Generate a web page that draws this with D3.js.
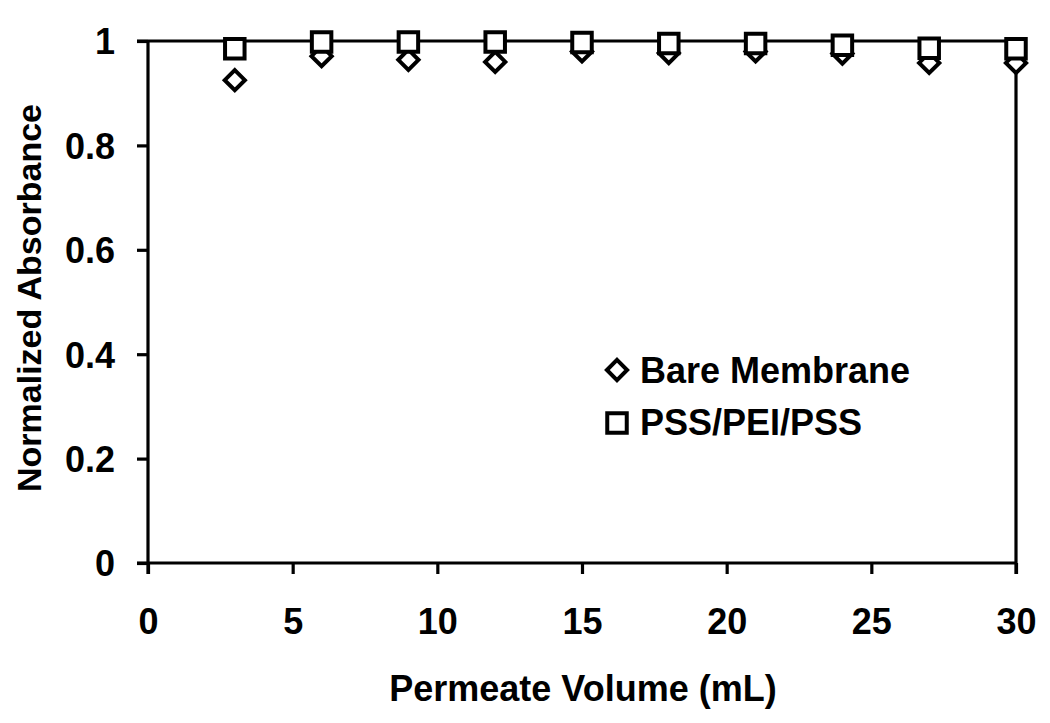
<!DOCTYPE html>
<html><head><meta charset="utf-8">
<script src="https://cdn.jsdelivr.net/npm/d3@7"></script>
<style>body{margin:0;background:#fff}svg{display:block}text{font-family:"Liberation Sans",Arial,sans-serif;font-weight:bold;fill:#000}</style>
</head><body><svg id="c" width="1050" height="723"></svg>
<script>
const volumes = [3, 6, 9, 12, 15, 18, 21, 24, 27, 30];
const bareMembrane = [0.925, 0.971, 0.964, 0.960, 0.980, 0.977, 0.980, 0.976, 0.958, 0.958];
const pssPeiPss = [0.985, 0.998, 0.998, 0.998, 0.997, 0.995, 0.995, 0.992, 0.986, 0.985];
const xTicks = [0, 5, 10, 15, 20, 25, 30];
const yTicks = [0, 0.2, 0.4, 0.6, 0.8, 1];
const seriesNames = ["Bare Membrane", "PSS/PEI/PSS"];

const svg = d3.select("#c");
const x = d3.scaleLinear().domain([0, 30]).range([148, 1016]);
const y = d3.scaleLinear().domain([0, 1]).range([563, 41]);
const sw = 3.2;

svg.append("line").attr("x1", x(0) - 11).attr("x2", x(30)).attr("y1", y(1)).attr("y2", y(1)).attr("stroke", "#000").attr("stroke-width", sw);
svg.append("line").attr("x1", x(30)).attr("x2", x(30)).attr("y1", y(1)).attr("y2", y(0) + 11).attr("stroke", "#000").attr("stroke-width", sw);

const xAxis = d3.axisBottom(x).tickValues(xTicks).tickSize(11).tickSizeOuter(0).tickPadding(0).tickFormat(d3.format("d"));
const gx = svg.append("g").attr("transform", `translate(0,${y(0)})`).call(xAxis);
gx.select(".domain").attr("stroke-width", sw).attr("d", `M${x(0)-11},0H${x(30)}`);
gx.selectAll(".tick line").attr("stroke-width", sw);
gx.selectAll("text").style("font-size", "36px").attr("y", 71).attr("dy", null);

const yAxis = d3.axisLeft(y).tickValues(yTicks).tickSize(11).tickSizeOuter(0).tickPadding(22).tickFormat(d => d === 0 || d === 1 ? d3.format("d")(d) : d3.format(".1f")(d));
const gy = svg.append("g").attr("transform", `translate(${x(0)},0)`).call(yAxis);
gy.select(".domain").attr("stroke-width", sw).attr("d", `M0,${y(0)+11}V${y(1)}`);
gy.selectAll(".tick line").attr("stroke-width", sw);
gy.selectAll("text").style("font-size", "36px").attr("dy", "0.36em");

svg.append("text").attr("x", 583).attr("y", 701).attr("text-anchor", "middle").style("font-size", "36px").text("Permeate Volume (mL)");
svg.append("text").attr("transform", "translate(41,298) rotate(-90)").attr("text-anchor", "middle").style("font-size", "34px").text("Normalized Absorbance");

const diamond = d3.symbol().type(d3.symbolDiamond2).size(260);
const square = d3.symbol().type(d3.symbolSquare).size(380);

svg.append("g").selectAll("path").data(volumes).join("path")
  .attr("d", diamond).attr("transform", (d, i) => `translate(${x(d)},${y(bareMembrane[i])})`)
  .attr("fill", "#fff").attr("stroke", "#000").attr("stroke-width", 4);
svg.append("g").selectAll("path").data(volumes).join("path")
  .attr("d", square).attr("transform", (d, i) => `translate(${x(d)},${y(pssPeiPss[i])})`)
  .attr("fill", "#fff").attr("stroke", "#000").attr("stroke-width", 4);

const lg = svg.append("g");
lg.append("path").attr("d", diamond).attr("transform", "translate(617,370)").attr("fill", "#fff").attr("stroke", "#000").attr("stroke-width", 4);
lg.append("text").attr("x", 640).attr("y", 383).style("font-size", "36px").text(seriesNames[0]);
lg.append("path").attr("d", square).attr("transform", "translate(617,423)").attr("fill", "#fff").attr("stroke", "#000").attr("stroke-width", 4);
lg.append("text").attr("x", 640).attr("y", 435).style("font-size", "36px").text(seriesNames[1]);
</script></body></html>
